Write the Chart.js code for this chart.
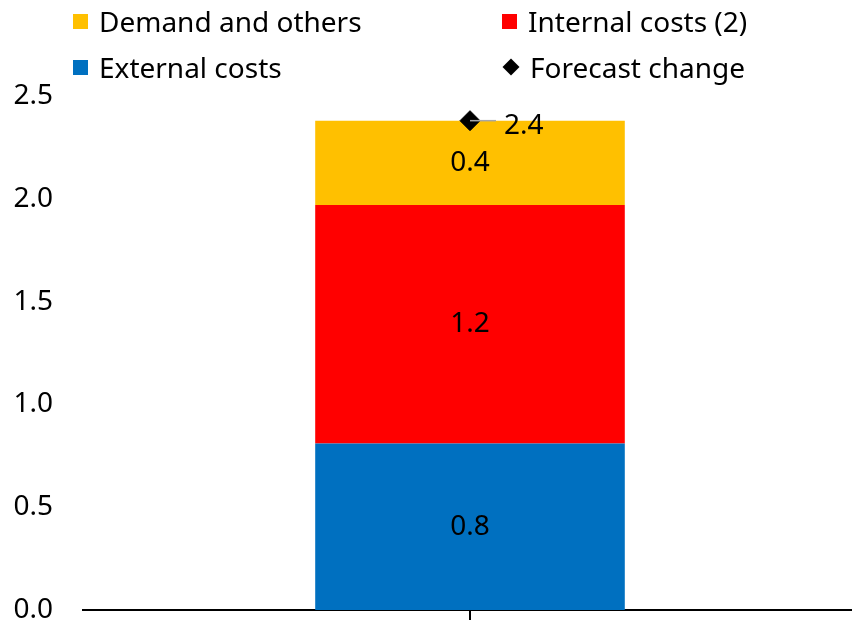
<!DOCTYPE html>
<html lang="en">
<head>
<meta charset="UTF-8">
<title>Forecast change</title>
<script src="https://cdn.jsdelivr.net/npm/chart.js@4.4.1/dist/chart.umd.min.js"></script>
<style>
    html, body { margin: 0; padding: 0; background: #fff; }
    #wrap { position: relative; width: 852px; height: 622px; overflow: hidden; }
    #legend { position: absolute; left: 0; top: 0; width: 852px; font-family: "Noto Sans", sans-serif; font-size: 28px; color: #000; }
    .item { position: absolute; display: flex; align-items: center; white-space: nowrap; }
    .box { width: 15px; height: 15px; margin-right: 11px; }
    .diamond { width: 12px; height: 12px; margin: 0 13px 0 3px; background: #000; transform: rotate(45deg); }
</style>
</head>
<body>
<div id="wrap">
    <!-- canvas is a bit bigger than the frame: chart.js keeps ~32px under the x axis,
         and the plot area runs slightly past the right edge in the original -->
    <canvas id="chart" width="857" height="654"></canvas>
    <div id="legend"></div>
</div>
<script>
    const categories = [""]
    const external = [0.81]
    const internal = [1.16]
    const demand = [0.41]
    const forecast = [2.38]
    const yTicks = [0, 0.5, 1.0, 1.5, 2.0, 2.5]

    const font = "Noto Sans"

    // draws the value labels inside the bars and next to the diamond
    const valueLabels = {
        id: "valueLabels",
        afterDatasetsDraw(chart) {
            const ctx = chart.ctx
            ctx.save()
            ctx.font = "28px '" + font + "'"
            ctx.fillStyle = "#000"
            ctx.textBaseline = "middle"
            chart.data.datasets.forEach((ds, i) => {
                const meta = chart.getDatasetMeta(i)
                meta.data.forEach((el, j) => {
                    const v = ds.data[j].toFixed(1)
                    if (ds.type === "line") {
                        ctx.strokeStyle = "#a6a6a6"
                        ctx.lineWidth = 1.5
                        ctx.beginPath()
                        ctx.moveTo(el.x, el.y)
                        ctx.lineTo(el.x + 26, el.y)
                        ctx.stroke()
                        ctx.textAlign = "left"
                        ctx.fillText(v, el.x + 34, el.y + 5)
                    } else {
                        ctx.textAlign = "center"
                        ctx.fillText(v, el.x, (el.y + el.base) / 2)
                    }
                })
            })
            ctx.restore()
        }
    }

    const chart = new Chart("chart", {
        data: {
            labels: categories,
            datasets: [
                { type: "line", label: "Forecast change", data: forecast, showLine: false, clip: false,
                  pointStyle: "rectRot", pointRadius: 10, pointBackgroundColor: "#000", pointBorderColor: "#000", order: 0 },
                { type: "bar", label: "External costs", data: external, backgroundColor: "#0070c0", order: 1 },
                { type: "bar", label: "Internal costs (2)", data: internal, backgroundColor: "#ff0000", order: 1 },
                { type: "bar", label: "Demand and others", data: demand, backgroundColor: "#ffc000", order: 1 }
            ]
        },
        options: {
            responsive: false,
            animation: false,
            layout: { autoPadding: false, padding: { top: 96, right: 0, left: 0, bottom: 0 } },
            datasets: { bar: { barPercentage: 0.4, categoryPercentage: 1 } },
            plugins: { legend: { display: false }, tooltip: { enabled: false } },
            scales: {
                x: {
                    stacked: true,
                    afterFit: (axis) => { axis.height = 12 },
                    ticks: { display: false },
                    grid: { display: true, offset: false, drawOnChartArea: false, drawTicks: true, tickLength: 10, color: "#000", lineWidth: 2 },
                    border: { display: true, color: "#000", width: 2 }
                },
                y: {
                    stacked: true,
                    min: 0, max: 2.5,
                    afterFit: (axis) => { axis.width = 83 },
                    afterBuildTicks: (axis) => { axis.ticks = yTicks.map(v => ({ value: v })) },
                    ticks: { padding: 30, color: "#000", font: { family: font, size: 28, lineHeight: 1 }, callback: (v) => v.toFixed(1) },
                    grid: { display: false, drawTicks: false },
                    border: { display: false }
                }
            }
        },
        plugins: [valueLabels]
    })

    // legend in two columns, built from the datasets
    const legendOrder = ["Demand and others", "Internal costs (2)", "External costs", "Forecast change"]
    const legendPos = [[73, 22], [502, 22], [73, 68], [502, 68]]
    const legend = document.getElementById("legend")
    legendOrder.forEach((name, k) => {
        const ds = chart.data.datasets.find(d => d.label === name)
        const item = document.createElement("div")
        item.className = "item"
        item.style.left = legendPos[k][0] + "px"
        item.style.top = (legendPos[k][1] - 20) + "px"
        const mark = document.createElement("span")
        if (ds.type === "line") {
            mark.className = "diamond"
        } else {
            mark.className = "box"
            mark.style.background = ds.backgroundColor
        }
        const txt = document.createElement("span")
        txt.textContent = name
        item.appendChild(mark)
        item.appendChild(txt)
        legend.appendChild(item)
    })
</script>
</body>
</html>
